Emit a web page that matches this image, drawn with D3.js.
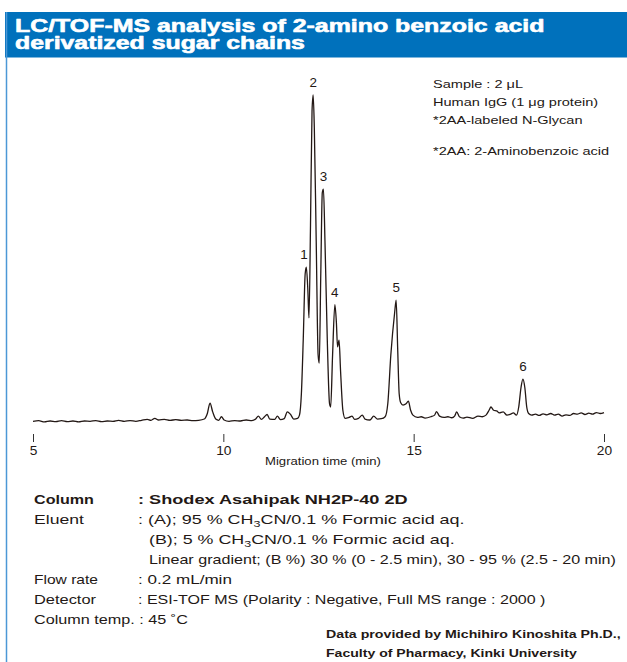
<!DOCTYPE html>
<html><head><meta charset="utf-8">
<script src="https://cdn.jsdelivr.net/npm/d3@7"></script>
<style>
html,body{margin:0;padding:0;background:#fff;}
svg{display:block;font-family:"Liberation Sans",Arial,Helvetica,sans-serif;}
</style></head>
<body>
<svg id="c" width="627" height="662"></svg>
<script>
// Migration time (min)
const times = [5.00,5.15,5.30,5.45,5.60,5.75,5.90,6.05,6.20,6.35,6.50,6.65,6.80,6.95,7.10,7.25,7.40,7.55,7.70,7.85,8.00,8.10,8.20,8.30,8.45,8.60,8.75,8.90,9.05,9.20,9.35,9.50,9.58,9.65,9.72,9.80,9.88,9.95,10.02,10.15,10.30,10.45,10.60,10.75,10.85,10.92,11.00,11.08,11.15,11.22,11.35,11.42,11.50,11.60,11.68,11.76,11.85,11.95,12.00,12.05,12.10,12.15,12.18,12.22,12.25,12.29,12.33,12.36,12.39,12.44,12.49,12.52,12.56,12.60,12.63,12.67,12.73,12.79,12.82,12.87,12.93,12.97,13.00,13.04,13.08,13.14,13.20,13.30,13.38,13.45,13.55,13.65,13.72,13.85,13.95,14.05,14.15,14.25,14.32,14.40,14.50,14.54,14.58,14.62,14.66,14.72,14.80,14.86,14.92,14.98,15.10,15.20,15.30,15.45,15.55,15.60,15.68,15.80,15.90,16.00,16.08,16.13,16.20,16.30,16.40,16.55,16.69,16.80,16.90,16.98,17.03,17.10,17.18,17.25,17.35,17.45,17.55,17.62,17.70,17.76,17.82,17.87,17.92,17.97,18.02,18.10,18.20,18.30,18.40,18.50,18.60,18.70,18.80,18.90,19.00,19.10,19.20,19.30,19.40,19.50,19.60,19.70,19.80,19.90,20.00];
// Relative intensity (largest peak = 100)
const intensity = [-0.4,-0.2,-0.6,-0.3,-0.5,-0.2,-0.5,-0.3,-0.6,-0.3,-0.4,-0.2,-0.5,-0.3,-0.4,-0.1,-0.4,-0.2,-0.4,-0.1,0.2,-0.1,0.5,0.0,0.2,-0.1,0.1,-0.1,0.0,-0.2,-0.1,0.3,2.0,5.2,2.5,0.3,-0.1,1.0,0.0,-0.4,-0.2,-0.3,0.0,-0.2,0.3,1.2,0.2,1.0,1.7,0.3,0.2,1.2,0.1,0.4,2.5,1.8,0.3,0.5,1.5,8,25,45,47,40,31.4,60,95,100,90,55,20,17.5,45,70,71,55,25,5,4,20,35.5,30,22.5,24.6,15,3,0.5,0.8,1.2,0.2,0.5,1.5,0.3,0.0,1.2,0.3,0.4,1.0,5,20,33,36.9,22,8,5.3,4.6,5.0,5.8,3,1.5,0.8,1.0,0.6,1.0,1.5,2.6,1.2,0.8,1.0,0.7,1.3,2.5,1.0,0.6,0.9,0.5,1.2,1.0,1.5,3,4.0,3.0,2.8,2.2,2.5,1.5,1.8,2.2,1.5,4,10,12.6,10,4,2.0,1.5,1.8,1.4,1.9,1.6,2.0,1.5,1.8,1.2,1.6,1.4,2.0,1.8,2.2,1.7,2.1,1.8,2.3,2.0,2.3];
// Peak labels
const peakNames = ["1","2","3","4","5","6"];
const peakTimes = [12.17,12.36,12.63,12.93,14.54,17.87];
const peakHeights = [47,100,71,35.5,36.9,12.6];
const xTicks = [5,10,15,20];

const titleLines = ["LC/TOF-MS analysis of 2-amino benzoic acid","derivatized sugar chains"];
const sampleNotes = ["Sample : 2 μL","Human IgG (1 μg protein)","*2AA-labeled N-Glycan"];
const footnote = "*2AA: 2-Aminobenzoic acid";
const credits = ["Data provided by Michihiro Kinoshita Ph.D.,","Faculty of Pharmacy, Kinki University"];

const svg = d3.select("#c");
const blue = "#0071bc";
const ink = "#231815";
const SX = 1.29; // horizontal stretch of the reference typeface

// text helper: draws text stretched horizontally to a target width (or by SX)
function txt(parent, xx, yy, str, o){
  o = o || {};
  const g = parent.append("g").attr("transform",`translate(${xx},${yy})`);
  const t = g.append("text").attr("font-size",o.size||12.5).attr("fill",o.fill||ink)
    .attr("font-weight",o.bold?"bold":null);
  if (o.stroke) t.attr("stroke",o.fill||ink).attr("stroke-width",o.stroke).attr("stroke-linejoin","round");
  if (typeof str === "function") str(t); else t.text(str);
  const w = t.node().getComputedTextLength();
  const s = o.width ? o.width / w : (o.sx || SX);
  const anchorShift = o.anchor==="middle" ? -w*s/2 : 0;
  g.attr("transform",`translate(${xx+anchorShift},${yy}) scale(${s},1)`);
  return t;
}

// header
svg.append("rect").attr("x",5).attr("y",12).attr("width",622).attr("height",45.5).attr("fill",blue);
svg.append("line").attr("x1",6.5).attr("x2",6.5).attr("y1",12).attr("y2",662).attr("stroke","#4b98d6").attr("stroke-width",1.5);
txt(svg,15,31.5,titleLines[0],{size:18,bold:true,fill:"#fff",width:530,stroke:0.6});
txt(svg,15,49,titleLines[1],{size:18,bold:true,fill:"#fff",width:290,stroke:0.6});

const x = d3.scaleLinear().domain([5,20]).range([33,604]);
const y = d3.scaleLinear().domain([0,100]).range([420,95]);

const pts = times.map((t,i)=>[t,intensity[i]]);
const line = d3.line().x(d=>x(d[0])).y(d=>y(d[1])).curve(d3.curveMonotoneX);
svg.append("path").datum(pts).attr("d",line).attr("fill","none")
  .attr("stroke",ink).attr("stroke-width",1.3).attr("stroke-linejoin","round");

// axis (ticks only, no domain line)
const ax = svg.append("g").attr("transform","translate(0,434)")
  .call(d3.axisBottom(x).tickValues(xTicks).tickSize(8).tickPadding(4).tickFormat(d3.format("d")));
ax.select(".domain").remove();
ax.selectAll("line").attr("stroke","#333").attr("stroke-width",1);
ax.selectAll("text").attr("font-size",12.5).attr("fill",ink).attr("font-family","Liberation Sans,Arial,sans-serif")
  .attr("transform","scale(1.1,1)");
txt(svg,323,465,"Migration time (min)",{size:10.5,anchor:"middle",width:116});

// peak labels
peakNames.forEach((d,i)=>{
  txt(svg,x(peakTimes[i])-(i===0?2:0),y(peakHeights[i])-8,d,{size:12,anchor:"middle",sx:1.12});
});

// sample notes
sampleNotes.forEach((d,i)=>txt(svg,433,88+i*18,d,{size:11.2,sx:1.3}));
txt(svg,433,155,footnote,{size:11.2,sx:1.3});

// conditions table
const fs = 12.5;
function ch3cn(pre,post){
  return function(t){
    t.append("tspan").text(pre+"CH");
    t.append("tspan").attr("font-size",fs*0.7).attr("dy",3).text("3");
    t.append("tspan").attr("dy",-3).text("CN"+post);
  };
}
txt(svg,34,504,"Column",{size:fs,bold:true,width:60});
txt(svg,138,504,": Shodex Asahipak NH2P-40 2D",{size:fs,bold:true,width:270});
txt(svg,34,524,"Eluent",{size:fs,width:50});
txt(svg,138,524,ch3cn(": (A); 95 % ","/0.1 % Formic acid aq."),{size:fs,width:327});
txt(svg,149,544,ch3cn("(B); 5 % ","/0.1 % Formic acid aq."),{size:fs,width:306});
txt(svg,149,564,"Linear gradient; (B %) 30 % (0 - 2.5 min), 30 - 95 % (2.5 - 20 min)",{size:fs,width:467});
txt(svg,34,584,"Flow rate",{size:fs,width:64});
txt(svg,138,584,": 0.2 mL/min",{size:fs,width:94});
txt(svg,34,604,"Detector",{size:fs,width:62});
txt(svg,138,604,": ESI-TOF MS (Polarity : Negative, Full MS range : 2000 )",{size:fs,width:408});
txt(svg,34,624,"Column temp. : 45 ˚C",{size:fs,width:154});

txt(svg,326,638,credits[0],{size:11.5,bold:true,width:295});
txt(svg,326,657,credits[1],{size:11.5,bold:true,width:251});
</script>
</body></html>
